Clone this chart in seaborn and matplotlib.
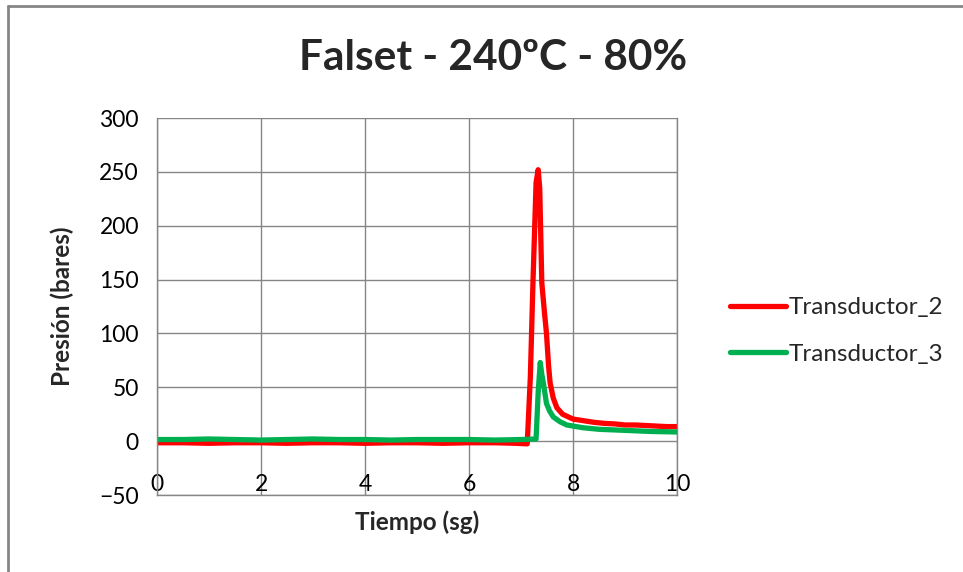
import matplotlib
matplotlib.use("Agg")
import matplotlib.pyplot as plt
from matplotlib.lines import Line2D
import seaborn as sns
import pandas as pd

# ---------------- datos ----------------
t_trans2 = [0.0, 0.5, 1.0, 1.5, 2.0, 2.5, 3.0, 3.5, 4.0, 4.5, 5.0, 5.5, 6.0, 6.5, 6.9, 7.12,
            7.18, 7.23, 7.29, 7.33, 7.36, 7.40, 7.45, 7.49, 7.53, 7.56, 7.62, 7.69, 7.80,
            8.0, 8.2, 8.4, 8.6, 8.8, 9.0, 9.2, 9.4, 9.6, 9.8, 10.0]
p_trans2 = [-1.5, -1.5, -2.0, -1.5, -1.5, -2.0, -1.5, -1.5, -2.0, -1.5, -1.5, -2.0, -1.5, -1.5, -2.0, -2.5,
            60, 147, 240, 252, 235, 147, 120, 100, 70, 54, 40, 31, 25,
            20.5, 19, 17.5, 16.5, 16, 15, 15, 14.5, 14, 13.5, 13.5]

t_trans3 = [0.0, 0.5, 1.0, 1.5, 2.0, 2.5, 3.0, 3.5, 4.0, 4.5, 5.0, 5.5, 6.0, 6.5, 7.0, 7.29,
            7.33, 7.37, 7.40, 7.43, 7.49, 7.55, 7.62, 7.75, 7.88, 8.0, 8.2, 8.5, 9.0, 9.5, 10.0]
p_trans3 = [1.5, 1.5, 2.0, 1.5, 1.0, 1.5, 2.0, 1.5, 1.5, 1.0, 1.5, 1.5, 1.5, 1.0, 1.5, 2.0,
            45, 73, 62, 54, 35, 28, 22.5, 18, 15, 14, 12.4, 11, 10, 9, 8.5]

series_names = ["Transductor_2", "Transductor_3"]
series_colors = ["#FF0000", "#00B050"]
x_ticks = [0, 2, 4, 6, 8, 10]
y_ticks = [-50, 0, 50, 100, 150, 200, 250, 300]

df = pd.concat([
    pd.DataFrame({"t": t_trans2, "p": p_trans2, "serie": series_names[0]}),
    pd.DataFrame({"t": t_trans3, "p": p_trans3, "serie": series_names[1]}),
], ignore_index=True)

# ---------------- estilo ----------------
sns.set_style("white")
plt.rcParams["font.family"] = ["Lato", "DejaVu Sans"]
GRIS = "#868686"

fig = plt.figure(figsize=(9.63, 5.72), dpi=100)
ax = fig.add_axes([157 / 963, 77 / 572, 520 / 963, 377 / 572])

sns.lineplot(data=df, x="t", y="p", hue="serie", hue_order=series_names,
             palette=dict(zip(series_names, series_colors)), linewidth=3.8,
             estimator=None, sort=False, ax=ax)

ax.set_xlim(0, 10)
ax.set_ylim(-50, 300)
ax.set_xticks(x_ticks)
ax.set_yticks(y_ticks)
ax.grid(True, color=GRIS, linewidth=1.0)
ax.set_axisbelow(True)
for s in ax.spines.values():
    s.set_color(GRIS)
    s.set_linewidth(1.0)
ax.spines["top"].set_visible(False)

ax.tick_params(axis="y", direction="out", length=4, color=GRIS, width=1.0,
               labelsize=16.5, pad=9, labelcolor="#000000")
ax.tick_params(axis="x", length=0, labelsize=16.5, pad=-15, labelcolor="#000000")

ax.set_xlabel("Tiempo (sg)", fontsize=17.5, fontweight="bold", labelpad=11)
ax.set_ylabel("Presión (bares)", fontsize=17.5, fontweight="bold", labelpad=18)
fig.text(493 / 963, 1 - 58 / 572, "Falset - 240ºC - 80%", fontsize=30.5,
         fontweight="bold", ha="center", va="center")

ax.legend(loc="center left", bbox_to_anchor=(730 / 963, 1 - 331 / 572),
          bbox_transform=fig.transFigure, frameon=False, fontsize=17.5,
          handlelength=2.3, handletextpad=0.12, labelspacing=1.05, borderpad=0,
          borderaxespad=0)

# marco del gráfico (solo lado superior e izquierdo visibles)
fig.add_artist(Line2D([8 / 963, 1], [1 - 6 / 572, 1 - 6 / 572], color=GRIS,
                      linewidth=2.0, transform=fig.transFigure))
fig.add_artist(Line2D([8 / 963, 8 / 963], [0, 1 - 6 / 572], color=GRIS,
                      linewidth=2.0, transform=fig.transFigure))

fig.savefig("out.png", dpi=100)
